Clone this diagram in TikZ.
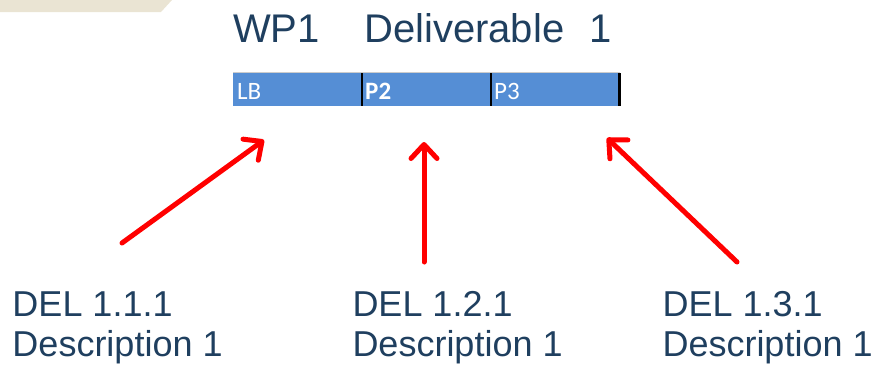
\documentclass[tikz,border=0pt]{standalone}
\usepackage{fontspec}
\setmainfont{Liberation Sans}
\newfontfamily\barfont{Carlito}
\usetikzlibrary{arrows.meta}
\definecolor{band}{HTML}{EAE4D3}
\definecolor{txtblue}{HTML}{1F3F5F}
\definecolor{barblue}{HTML}{558ED5}
\definecolor{arrred}{HTML}{FF0000}
\tikzset{
  title/.style={anchor=base west, inner sep=0pt, text=txtblue, font=\fontsize{40}{40}\selectfont},
  bartext/.style={anchor=base west, inner sep=0pt, text=white, font=\barfont\fontsize{25}{25}\selectfont},
  deltext/.style={anchor=base west, inner sep=0pt, text=txtblue, align=left,
    font=\fontsize{36}{39.5}\selectfont},
  redarrow/.style={draw=arrred, line width=5pt, line cap=round,
    -{Straight Barb[length=14pt,width=26pt,round]}},
  divider/.style={draw=black, line width=1.6pt}
}
\begin{document}
\begin{tikzpicture}[x=1pt,y=-1pt]
\useasboundingbox (0,0) rectangle (880,372);
% beige band
\fill[band] (0,0) -- (172,0) -- (161,12) -- (0,12) -- cycle;
% title
\node[title] (wp) at (233,42) {WP1};
\node[title] (deliv) at (364,42) {Deliverable};
\node[title] (one) at (589,42) {1};
% bar
\fill[barblue] (233,73) rectangle (620,106);
\draw[gray!40, line width=0.6pt] (233,72.5) -- (620,72.5);
\draw[divider] (362,73) -- (362,106);
\draw[divider] (491,73) -- (491,106);
\draw[draw=black, line width=3pt] (619,73) -- (619,106);
\node[bartext] (lb) at (237,99) {LB};
\node[bartext] (p2) at (365,99) {\bfseries P2};
\node[bartext] (p3) at (494,99) {P3};
% arrow end points
\coordinate (t1) at (122,243);
\coordinate (h1) at (264,140);
\coordinate (t2) at (424,262);
\coordinate (h2) at (424,142);
\coordinate (t3) at (737,262);
\coordinate (h3) at (607,138);
\draw[redarrow] (t1) -- (h1);
\draw[redarrow] (t2) -- (h2);
\draw[redarrow] (t3) -- (h3);
% deliverable texts (base anchor = last line baseline)
\node[deltext] (d1) at (12.3,356) {DEL 1.1.1\\Description 1};
\node[deltext] (d2) at (352.3,356) {DEL 1.2.1\\Description 1};
\node[deltext] (d3) at (662.3,356) {DEL 1.3.1\\Description 1};
\end{tikzpicture}
\end{document}
